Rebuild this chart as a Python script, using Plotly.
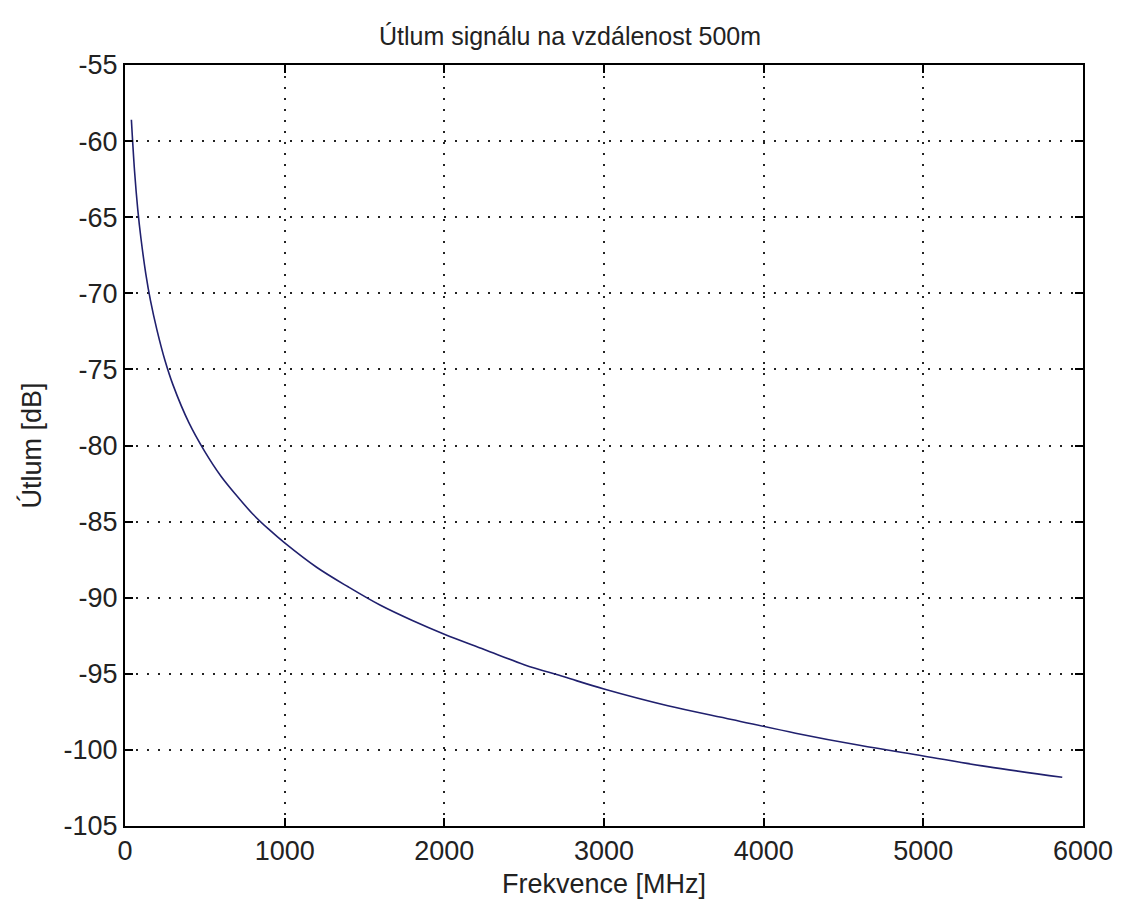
import plotly.graph_objects as go

# Free-space attenuation over 500 m, sampled across the frequency band
freq_mhz = [40, 60, 80, 100, 130, 160, 200, 250, 300, 400, 500, 600, 700, 800,
            900, 1000, 1200, 1400, 1600, 1800, 2000, 2250, 2500, 2750, 3000,
            3400, 3800, 4200, 4600, 5000, 5400, 5870]
attenuation_db = [-58.6, -62.0, -64.5, -66.4, -68.7, -70.5, -72.4, -74.4, -76.0,
                  -78.5, -80.4, -82.0, -83.3, -84.5, -85.5, -86.4, -88.0, -89.3,
                  -90.5, -91.5, -92.4, -93.4, -94.4, -95.2, -96.0, -97.1, -98.0,
                  -98.9, -99.7, -100.4, -101.1, -101.8]

x_ticks = [0, 1000, 2000, 3000, 4000, 5000, 6000]
y_ticks = [-55, -60, -65, -70, -75, -80, -85, -90, -95, -100, -105]

FONT = "Liberation Sans, Arial, sans-serif"
TEXT_COLOR = "#222222"

fig = go.Figure(
    go.Scatter(
        x=freq_mhz,
        y=attenuation_db,
        mode="lines",
        line=dict(color="#20206e", width=1.6, shape="spline", smoothing=1.0),
        hoverinfo="skip",
    )
)

axis_common = dict(
    showline=True,
    linecolor="black",
    linewidth=2,
    mirror="ticks",
    ticks="inside",
    ticklen=8,
    tickwidth=1.5,
    tickcolor="black",
    showgrid=True,
    gridcolor="#222222",
    gridwidth=1.6,
    griddash="2px,9px",
    zeroline=False,
    tickfont=dict(family=FONT, size=27, color=TEXT_COLOR),
)

fig.update_xaxes(
    range=[0, 6000],
    tickvals=x_ticks,
    ticktext=[str(v) for v in x_ticks],
    title=dict(text="Frekvence [MHz]", font=dict(family=FONT, size=27, color=TEXT_COLOR), standoff=9),
    **axis_common,
)
fig.update_yaxes(
    range=[-105, -55],
    tickvals=y_ticks,
    ticktext=[str(v) for v in y_ticks],
    title=dict(text="Útlum [dB]", font=dict(family=FONT, size=27, color=TEXT_COLOR), standoff=14),
    **axis_common,
)

fig.update_layout(
    width=1125,
    height=906,
    margin=dict(l=125, r=32, t=65, b=80),
    paper_bgcolor="white",
    plot_bgcolor="white",
    showlegend=False,
    title=dict(
        text="Útlum signálu na vzdálenost 500m",
        font=dict(family=FONT, size=25, color=TEXT_COLOR),
        x=570 / 1125,
        xanchor="center",
        y=1 - 36 / 906,
        yanchor="middle",
    ),
)

fig.write_html("out.html")
